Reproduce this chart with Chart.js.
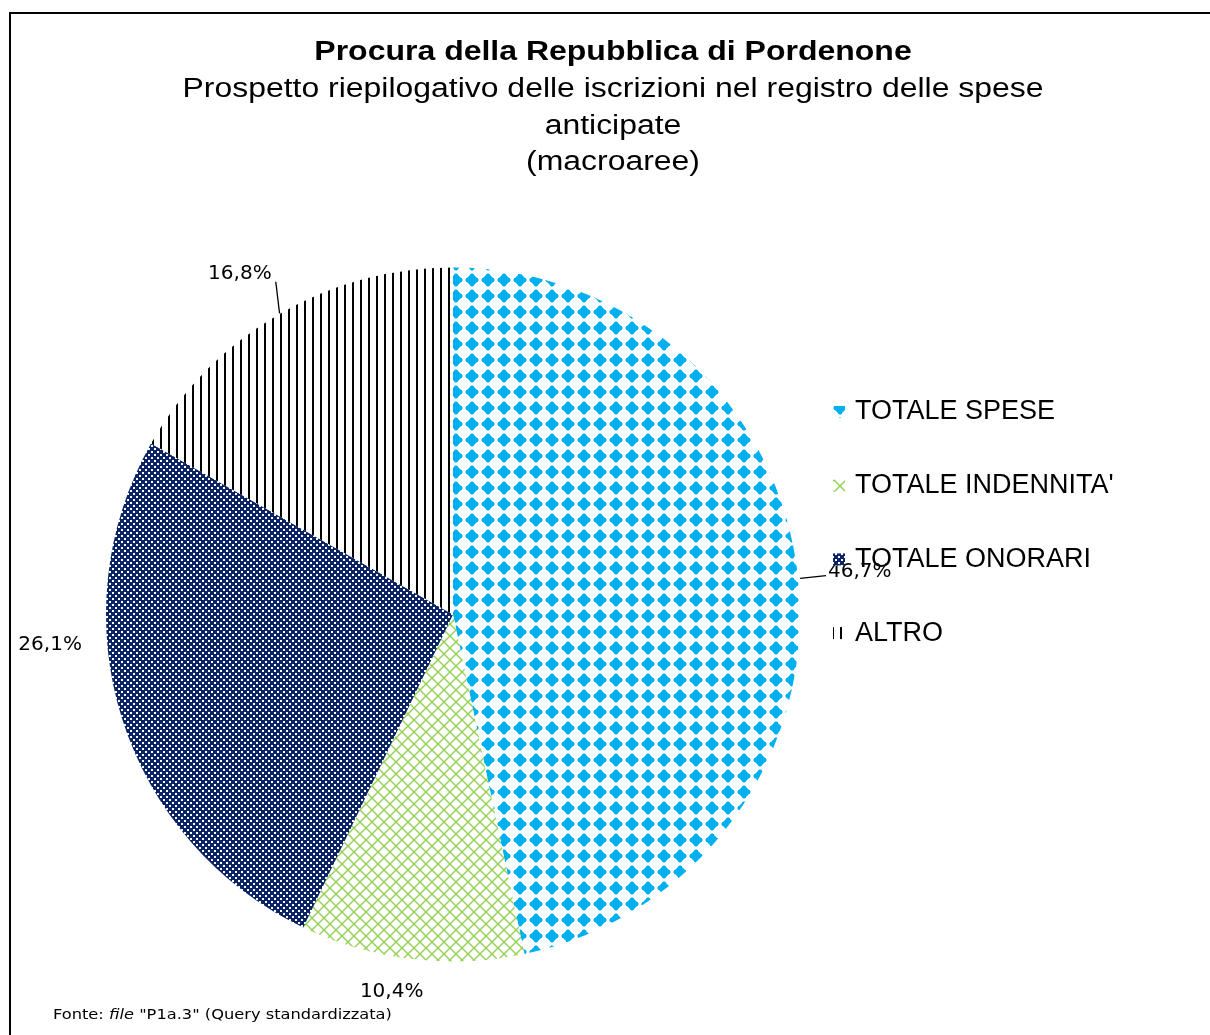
<!DOCTYPE html>
<html>
<head>
<meta charset="utf-8">
<script src="https://cdn.jsdelivr.net/npm/chart.js@4/dist/chart.umd.min.js"></script>
<style>
  html, body { margin: 0; padding: 0; background: #fff; }
  canvas { display: block; }
</style>
</head>
<body>
<canvas id="c" width="1210" height="1035"></canvas>
<script>
// dati
const categorie = ['TOTALE SPESE', "TOTALE INDENNITA'", 'TOTALE ONORARI', 'ALTRO'];
const percentuali = [46.7, 10.4, 26.1, 16.8];
const titolo = 'Procura della Repubblica di Pordenone';
const sottotitolo = ['Prospetto riepilogativo delle iscrizioni nel registro delle spese', 'anticipate', '(macroaree)'];

// tessere dei motivi (retini stile Excel)
function tile(w, h, draw) {
  const c = document.createElement('canvas');
  c.width = w; c.height = h;
  const g = c.getContext('2d');
  draw(g);
  return document.getElementById('c').getContext('2d').createPattern(c, 'repeat');
}

const retinoSpese = tile(16, 16, g => {
  g.fillStyle = '#fff'; g.fillRect(0, 0, 16, 16);
  g.fillStyle = '#00B0F0';
  g.beginPath();
  g.moveTo(8, 1); g.lineTo(15, 8); g.lineTo(8, 15); g.lineTo(1, 8); g.closePath();
  g.fill();
  g.fillRect(2, 6, 12, 4);
  g.fillRect(6, 2, 4, 12);
});
const retinoIndennita = tile(12, 12, g => {
  g.fillStyle = '#fff'; g.fillRect(0, 0, 12, 12);
  g.strokeStyle = '#92D050'; g.lineWidth = 1.4;
  g.beginPath();
  g.moveTo(0, 6); g.lineTo(6, 0); g.lineTo(12, 6); g.lineTo(6, 12); g.closePath();
  g.stroke();
});
const retinoOnorari = tile(6, 6, g => {
  g.fillStyle = '#0B2466'; g.fillRect(0, 0, 6, 6);
  g.fillStyle = '#fff';
  g.fillRect(1, 1, 2, 2);
  g.fillRect(4, 4, 2, 2);
});
const retinoAltro = tile(8, 4, g => {
  g.fillStyle = '#fff'; g.fillRect(0, 0, 8, 4);
  g.fillStyle = '#000'; g.fillRect(0, 0, 2, 4);
});
const retini = [retinoSpese, retinoIndennita, retinoOnorari, retinoAltro];

// posizione etichette: distanza extra dal bordo, rotazione in gradi, allineamento
const etichette = [
  { dr: 30, da: 0, dy: -4, align: 'left', leader: [2, 28] },
  { dr: 35, da: 2.4, dy: 0, align: 'center' },
  { dr: 57, da: 13.2, dy: 0, align: 'center' },
  { dr: 57, da: -1.6, dy: 3, align: 'center', leader: [0.5, 30], leaderDa: 0.3, leaderEndDa: 2.2 }
];

// testo allargato in orizzontale (il riferimento è più largo del font locale)
function testoLargo(ctx, t, x, y, sx, align) {
  ctx.save();
  ctx.translate(x, y);
  ctx.scale(sx, 1);
  ctx.textAlign = align;
  ctx.fillText(t, 0, 0);
  ctx.restore();
}

const decorazioni = {
  id: 'decorazioni',
  afterDraw(chart) {
    const ctx = chart.ctx;
    ctx.save();
    // cornice
    ctx.strokeStyle = '#000'; ctx.lineWidth = 2;
    ctx.beginPath();
    ctx.moveTo(10, 1035); ctx.lineTo(10, 13); ctx.lineTo(1210, 13);
    ctx.stroke();

    // titoli
    ctx.fillStyle = '#000';
    ctx.textBaseline = 'middle';
    ctx.font = 'bold 27px "Liberation Sans", Arial, sans-serif';
    testoLargo(ctx, titolo, 613, 53, 1.185, 'center');
    ctx.font = '27px "Liberation Sans", Arial, sans-serif';
    sottotitolo.forEach((t, i) => testoLargo(ctx, t, 613, 90 + i * 36.5, 1.183, 'center'));

    // etichette percentuali
    const meta = chart.getDatasetMeta(0);
    ctx.font = '20px "DejaVu Sans", Verdana, sans-serif';
    meta.data.forEach((arc, i) => {
      const p = arc.getProps(['x', 'y', 'startAngle', 'endAngle', 'outerRadius'], true);
      const s = etichette[i];
      const mid = (p.startAngle + p.endAngle) / 2;
      const a = mid + s.da * Math.PI / 180;
      if (s.leader) {
        const la = mid + (s.leaderDa || 0) * Math.PI / 180;
        const le = s.leaderEndDa !== undefined ? mid + s.leaderEndDa * Math.PI / 180 : a;
        ctx.strokeStyle = '#000'; ctx.lineWidth = 1.3;
        ctx.beginPath();
        ctx.moveTo(p.x + Math.cos(la) * (p.outerRadius + s.leader[0]), p.y + Math.sin(la) * (p.outerRadius + s.leader[0]));
        ctx.lineTo(p.x + Math.cos(le) * (p.outerRadius + s.leader[1]), p.y + Math.sin(le) * (p.outerRadius + s.leader[1]));
        ctx.stroke();
      }
      const tx = p.x + Math.cos(a) * (p.outerRadius + s.dr);
      const ty = p.y + Math.sin(a) * (p.outerRadius + s.dr) + s.dy;
      ctx.textAlign = s.align;
      ctx.fillText(percentuali[i].toFixed(1).replace('.', ',') + '%', tx, ty);
    });

    // legenda
    ctx.textAlign = 'left';
    ctx.font = '27px "Liberation Sans", Arial, sans-serif';
    categorie.forEach((c, i) => {
      const y = 412 + i * 73.7;
      ctx.fillStyle = retini[i];
      ctx.fillRect(833, y - 6, 12, 12);
      ctx.fillStyle = '#000';
      ctx.fillText(c, 855, y);
    });

    // fonte
    ctx.textBaseline = 'alphabetic';
    let x = 53;
    const sx = 1.16;
    ['Fonte: ', 'file', ' "P1a.3" (Query standardizzata)'].forEach((t, i) => {
      ctx.font = (i === 1 ? 'italic ' : '') + '14px "DejaVu Sans", Verdana, sans-serif';
      testoLargo(ctx, t, x, 1019, sx, 'left');
      x += ctx.measureText(t).width * sx;
    });
    ctx.restore();
  }
};

new Chart(document.getElementById('c'), {
  type: 'pie',
  data: {
    labels: categorie,
    datasets: [{
      data: percentuali,
      backgroundColor: retini,
      borderWidth: 0
    }]
  },
  options: {
    responsive: false,
    devicePixelRatio: 1,
    animation: false,
    layout: { padding: { left: 106, top: 267, right: 410, bottom: 73 } },
    plugins: {
      legend: { display: false },
      tooltip: { enabled: false }
    }
  },
  plugins: [decorazioni]
});
</script>
</body>
</html>
